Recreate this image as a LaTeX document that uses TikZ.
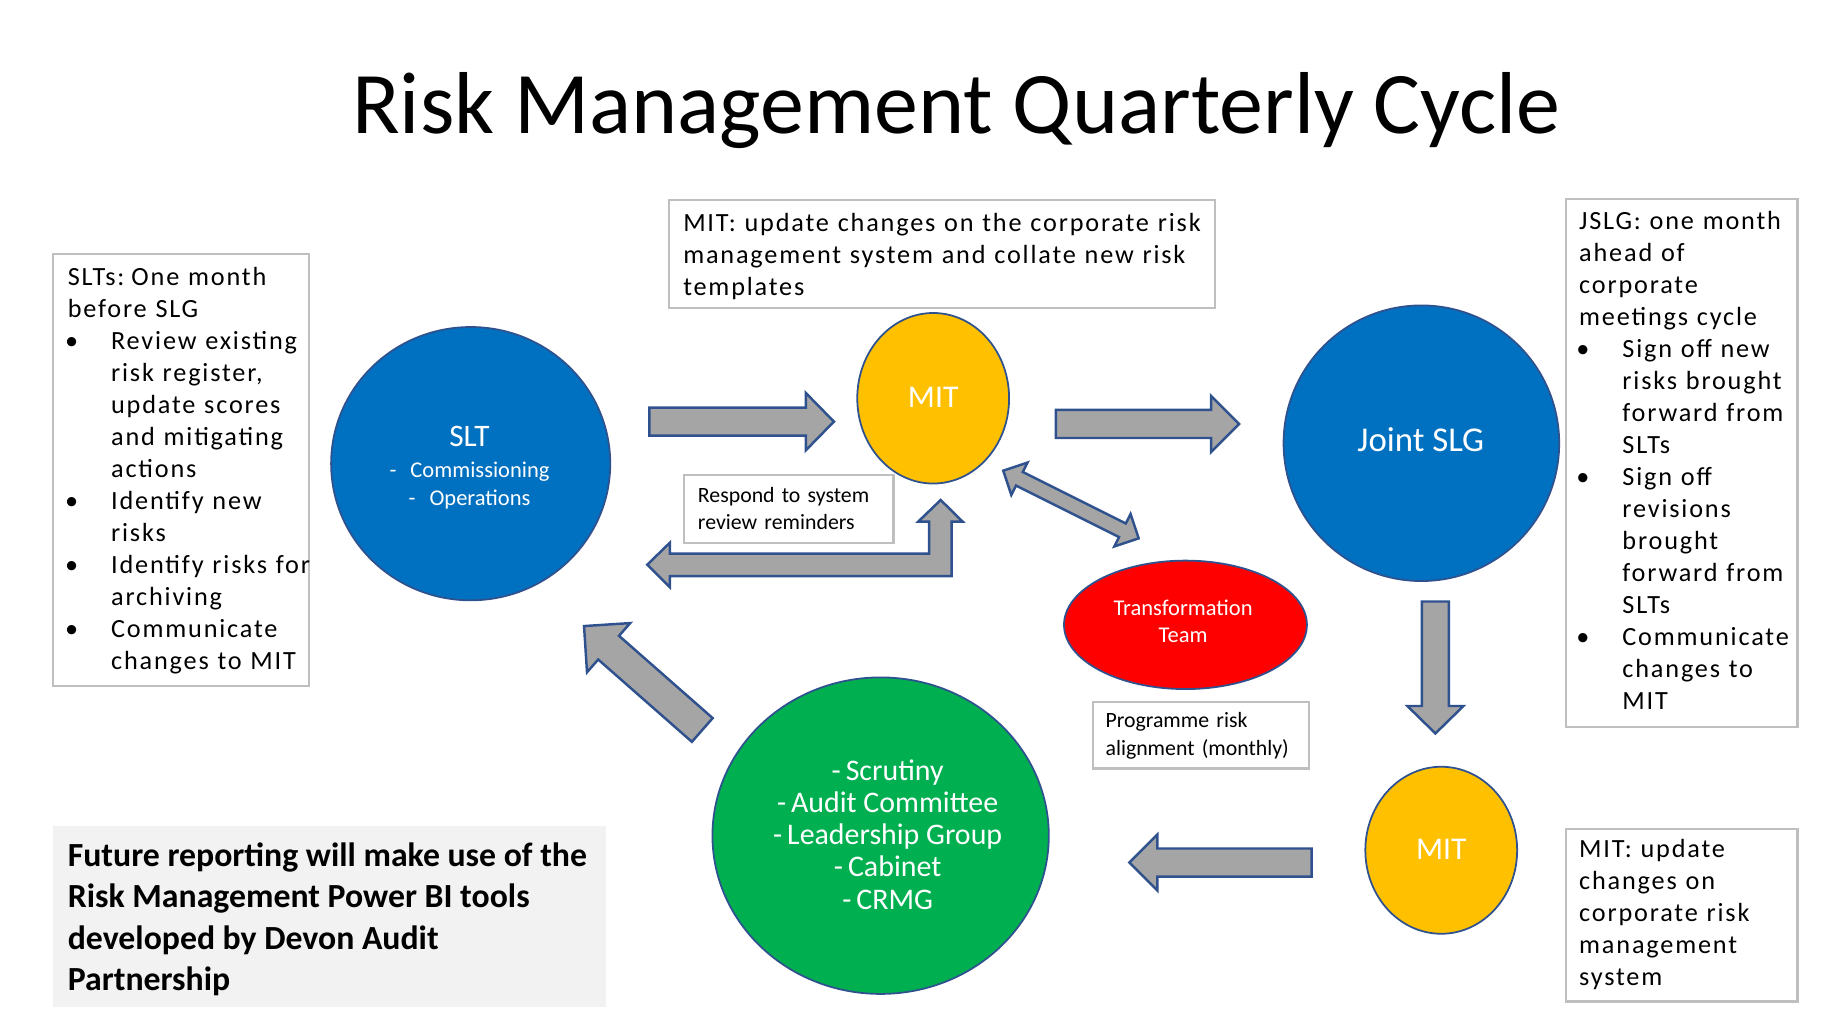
\documentclass[tikz,border=0pt]{standalone}
\usepackage{fontspec}
\setmainfont{Carlito}
\newfontfamily\notefont{Carlito}[LetterSpace=7]
\usetikzlibrary{calc}
\definecolor{sltblue}{HTML}{0070C0}
\definecolor{mitgold}{HTML}{FFC000}
\definecolor{teamred}{HTML}{FF0000}
\definecolor{boardgreen}{HTML}{00B050}
\definecolor{arrowgray}{HTML}{A5A5A5}
\definecolor{edgeblue}{HTML}{2F528F}
\definecolor{boxgray}{HTML}{BFBFBF}
\definecolor{panelgray}{HTML}{F2F2F2}
\def\ovu{0.3323pt}
\newcommand\blt{\par\leftskip=12.3pt\noindent\llap{\hbox to 12.3pt{\hspace{-0.8pt}\textbullet\hfil}}}
\newcommand\blockarrow[5]{%
 \path[blockarrow] let \p1=($(#2)-(#1)$), \n1={atan2(\y1,\x1)}, \n2={veclen(\x1,\y1)} in
  [shift={(#1)},rotate=\n1]
  (0pt,{#3*\ovu}) -- ({\n2-#5*\ovu},{#3*\ovu}) -- ({\n2-#5*\ovu},{#4*\ovu}) -- (\n2,0pt)
  -- ({\n2-#5*\ovu},{-#4*\ovu}) -- ({\n2-#5*\ovu},{-#3*\ovu}) -- (0pt,{-#3*\ovu}) -- cycle;}
\newcommand\twowayarrow[5]{%
 \path[blockarrow] let \p1=($(#2)-(#1)$), \n1={atan2(\y1,\x1)}, \n2={veclen(\x1,\y1)} in
  [shift={(#1)},rotate=\n1]
  (0pt,0pt) -- ({#5*\ovu},{#4*\ovu}) -- ({#5*\ovu},{#3*\ovu}) -- ({\n2-#5*\ovu},{#3*\ovu})
  -- ({\n2-#5*\ovu},{#4*\ovu}) -- (\n2,0pt) -- ({\n2-#5*\ovu},{-#4*\ovu}) -- ({\n2-#5*\ovu},{-#3*\ovu})
  -- ({#5*\ovu},{-#3*\ovu}) -- ({#5*\ovu},{-#4*\ovu}) -- cycle;}
\begin{document}
\begin{tikzpicture}[x=0.01168cm,y=-0.01168cm,
 disc/.style={draw=edgeblue,line width=0.5pt},
 disctext/.style={text=white,inner sep=0pt,align=center},
 blockarrow/.style={fill=arrowgray,draw=edgeblue,line width=0.7pt,line join=miter},
 notebox/.style={draw=boxgray,fill=white,line width=0.6pt},
 notetext/.style={anchor=north west,inner sep=0pt,align=left,text width=190pt,
  font=\notefont\fontsize{7.46}{9.1}\selectfont},
 smalltext/.style={anchor=north west,inner sep=0pt,align=left,text width=100pt,
  font=\fontsize{6.2}{7.8}\selectfont}]
 \useasboundingbox (0,0) rectangle (1560,877.6);
 \node[anchor=base,font=\fontsize{25}{30}\selectfont] (title) at (818.8,114.7) {Risk Management Quarterly Cycle};

 \draw[notebox] (45.5,217.4) rectangle (264.7,587.5);
 \node[notetext] (sltnote) at (57.5,224.9) {\strut SLTs:\hspace{2pt}One month\\before SLG
  \blt Review existing\\risk register,\\update scores\\and mitigating\\actions
  \blt Identify new\\risks
  \blt Identify risks for\\archiving
  \blt Communicate\\changes to MIT\par};
 \draw[notebox] (573,171) rectangle (1040,264);
 \node[notetext] (mitnote) at (584.4,178.5) {\strut MIT: update changes on the corporate risk\\management system and collate new risk\\templates};
 \draw[notebox] (1340.5,170.7) rectangle (1539,622.5);
 \node[notetext] (jslgnote) at (1351.5,176.9) {\strut JSLG: one month\\ahead of\\corporate\\meetings cycle
  \blt Sign off new\\risks brought\\forward from\\SLTs
  \blt Sign off\\revisions\\brought\\forward from\\SLTs
  \blt Communicate\\changes to\\MIT\par};
 \draw[notebox] (1340.5,710) rectangle (1539,857.5);
 \node[notetext] (mitupdate) at (1351.5,714.7) {\strut MIT: update\\changes on\\corporate risk\\management\\system};
 \draw[notebox] (586,407) rectangle (765,465);
 \node[smalltext] (respond) at (597,412.9) {\strut Respond to system\\review reminders};
 \draw[notebox] (936,601) rectangle (1121,658);
 \node[smalltext] (programme) at (946,606) {\strut Programme risk\\alignment (monthly)};
 \fill[panelgray] (45.5,707) rectangle (519,862);
 \node[anchor=north west,inner sep=0pt,align=left,font=\bfseries\fontsize{9.6}{11.76}\selectfont] (future) at (57.5,716.4)
  {\strut Future reporting will make use of the\\Risk Management Power BI tools\\developed by Devon Audit\\Partnership};

 \draw[disc,fill=sltblue] (403,397) ellipse (119.5 and 117);
 \node[disctext,anchor=north,font=\fontsize{6.4}{7.8}\selectfont] (slt) at (402,364.2)
  {{\fontsize{8.9}{10}\selectfont SLT}\\[1.1pt]-\hspace{4pt}Commissioning\\-\hspace{4pt}Operations};
 \draw[disc,fill=mitgold] (799,341) ellipse (65 and 73);
 \node[disctext,anchor=base,font=\fontsize{9}{11}\selectfont] (mit) at (799,348.8) {MIT};
 \draw[disc,fill=sltblue] (1217,379.5) ellipse (118 and 118);
 \node[disctext,anchor=base,font=\fontsize{9.9}{12}\selectfont] (jointslg) at (1216.5,387) {Joint SLG};
 \draw[disc,fill=teamred] (1015,535) ellipse (104 and 55);
 \node[disctext,font=\fontsize{6.4}{7.8}\selectfont] (team) at (1013,532) {Transformation\\Team};
 \draw[disc,fill=mitgold] (1234,728) ellipse (65 and 71.5);
 \node[disctext,anchor=base,font=\fontsize{9}{11}\selectfont] (mitlow) at (1234,736.3) {MIT};
 \draw[disc,fill=boardgreen] (754,715.5) ellipse (144 and 135.5);
 \node[disctext,font=\fontsize{8.5}{9.14}\selectfont] (boards) at (760,714.5)
  {-\,Scrutiny\\-\,Audit Committee\\-\,Leadership Group\\-\,Cabinet\\-\,CRMG};

 \coordinate (a1s) at (556,361); \coordinate (a1e) at (714,361);
 \coordinate (a2s) at (904,363); \coordinate (a2e) at (1061,363);
 \coordinate (a3s) at (1229,515); \coordinate (a3e) at (1229,628);
 \coordinate (a4s) at (1123,738.5); \coordinate (a4e) at (967,738.5);
 \coordinate (a5s) at (601.3,625); \coordinate (a5e) at (500,536);
 \coordinate (a6s) at (859,403); \coordinate (a6e) at (975,461);
 \blockarrow{a1s}{a1e}{12}{24.5}{24}
 \blockarrow{a2s}{a2e}{12}{24}{24}
 \blockarrow{a3s}{a3e}{11.5}{24}{23.5}
 \blockarrow{a4s}{a4e}{12}{24}{24}
 \blockarrow{a5s}{a5e}{13.5}{28}{28}
 \twowayarrow{a6s}{a6e}{6.5}{15.5}{15.5}
 \path[blockarrow] (554.2,483.5) -- (573.6,464.6) -- (573.6,474) -- (795.6,474) -- (795.6,446.6)
  -- (786.2,446.6) -- (805.4,428.1) -- (824.2,446.6) -- (814.8,446.6) -- (814.8,493.3)
  -- (573.6,493.3) -- (573.6,502.8) -- cycle;
\end{tikzpicture}
\end{document}
